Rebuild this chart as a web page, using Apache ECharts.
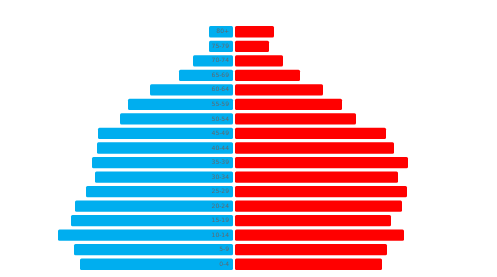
<!DOCTYPE html>
<html>
<head>
<meta charset="utf-8">
<script src="https://cdn.jsdelivr.net/npm/echarts@6/dist/echarts.min.js"></script>
<style>html,body{margin:0;padding:0;background:#fff;}#c{width:497px;height:277px;}</style>
</head>
<body>
<div id="c"></div>
<script>
// categories bottom-up
var ageGroups = ['0-4','5-9','10-14','15-19','20-24','25-29','30-34','35-39','40-44','45-49','50-54','55-59','60-64','65-69','70-74','75-79','80+'];
var male = [153,159,175,162,158,147,138,141,136,135,113,105,83,54,40,24,24];
var female = [147,152,169,156,167,172,163,173,159,151,121,107,88,65,48,34,39];
var axisMax = 200;

var chart = echarts.init(document.getElementById('c'));
chart.setOption({
  animation: false,
  grid: [
    {left: 33, width: 200, top: 24.5, bottom: 5.5},
    {left: 235, width: 200, top: 24.5, bottom: 5.5}
  ],
  xAxis: [
    {gridIndex: 0, type: 'value', inverse: true, min: 0, max: axisMax, show: false},
    {gridIndex: 1, type: 'value', min: 0, max: axisMax, show: false}
  ],
  yAxis: [
    {gridIndex: 0, type: 'category', data: ageGroups, position: 'right',
     axisLine: {show: false}, axisTick: {show: false}, splitLine: {show: false},
     axisLabel: {inside: true, margin: 4, fontSize: 6, color: '#5f6870', fontFamily: 'DejaVu Sans'}, z: 5},
    {gridIndex: 1, type: 'category', data: ageGroups,
     axisLine: {show: false}, axisTick: {show: false}, axisLabel: {show: false}, splitLine: {show: false}}
  ],
  series: [
    {type: 'bar', xAxisIndex: 0, yAxisIndex: 0, data: male, barWidth: 11.3,
     itemStyle: {color: '#00aeef', borderRadius: 1.5}},
    {type: 'bar', xAxisIndex: 1, yAxisIndex: 1, data: female, barWidth: 11.3,
     itemStyle: {color: '#ff0000', borderRadius: 1.5}}
  ]
});
</script>
</body>
</html>
